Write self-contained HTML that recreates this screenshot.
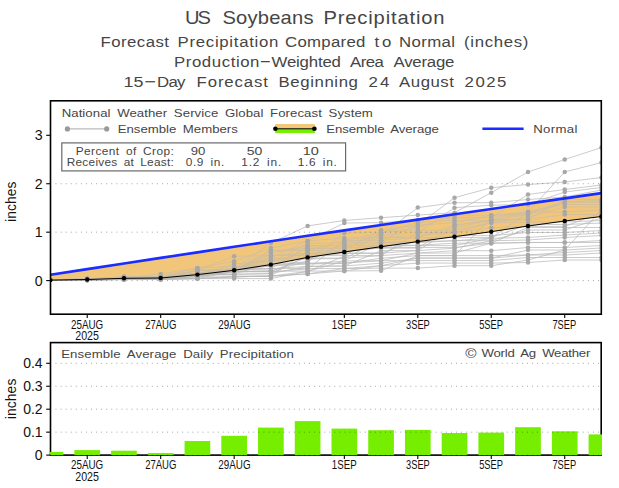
<!DOCTYPE html>
<html><head><meta charset="utf-8"><style>html,body{margin:0;padding:0;background:#fff;width:619px;height:488px;overflow:hidden}</style></head>
<body><svg width="619" height="488" viewBox="0 0 619 488" style="display:block;font-family:'Liberation Sans', sans-serif"><defs><clipPath id="ct"><rect x="50.5" y="100.5" width="550.7" height="213.7"/></clipPath><clipPath id="cb"><rect x="49.7" y="342" width="552.3" height="114"/></clipPath></defs><rect width="619" height="488" fill="#fff"/><g clip-path="url(#ct)"><polygon fill="#f2c77a" points="50.5,274.7 87.23,269.09 123.96,263.49 160.69,257.91 197.42,252.35 234.15,246.81 270.88,241.3 307.61,235.82 344.34,230.38 381.07,224.98 417.8,219.61 454.53,214.27 491.26,208.95 527.99,203.65 564.72,198.37 601.45,193.1 601.45,216.5 564.72,221 527.99,226 491.26,231.7 454.53,236.7 417.8,241.6 381.07,246.7 344.34,252 307.61,257.4 270.88,264.6 234.15,270.3 197.42,274.6 160.69,278 123.96,278.3 87.23,279.5 50.5,280.1"/><polyline fill="none" stroke="#b9b9b9" stroke-width="0.75" points="50.5,279.96 87.23,279.49 123.96,277.18 160.69,277.16 197.42,276.1 234.15,270.23 270.88,268.6 307.61,268.6 344.34,268.5 381.07,268.2 417.8,268.1 454.53,265.7 491.26,265.7 527.99,260 564.72,250 601.45,248"/><polyline fill="none" stroke="#b9b9b9" stroke-width="0.75" points="50.5,279.84 87.23,279.18 123.96,278.88 160.69,278.82 197.42,278.6 234.15,278.6 270.88,278.6 307.61,271.4 344.34,256 381.07,232.7 417.8,230.1 454.53,230.1 491.26,222.7 527.99,217 564.72,207 601.45,207"/><polyline fill="none" stroke="#b9b9b9" stroke-width="0.75" points="50.5,280.26 87.23,279 123.96,278.17 160.69,278.1 197.42,275.41 234.15,270.62 270.88,253.1 307.61,245.9 344.34,245.5 381.07,245.2 417.8,245.2 454.53,243.2 491.26,243.2 527.99,242.5 564.72,242.5 601.45,240.5"/><polyline fill="none" stroke="#b9b9b9" stroke-width="0.75" points="50.5,279.86 87.23,279.54 123.96,277.96 160.69,277.86 197.42,273.1 234.15,268.8 270.88,243.1 307.61,225.9 344.34,220.5 381.07,217.7 417.8,215.1 454.53,212.7 491.26,192.7 527.99,172 564.72,159.5 601.45,147.5"/><polyline fill="none" stroke="#b9b9b9" stroke-width="0.75" points="50.5,280.04 87.23,278.94 123.96,277.01 160.69,277 197.42,275.93 234.15,271.8 270.88,271.8 307.61,268.9 344.34,240.5 381.07,240.2 417.8,237.6 454.53,237.57 491.26,237.57 527.99,224.5 564.72,224.5 601.45,223"/><polyline fill="none" stroke="#b9b9b9" stroke-width="0.75" points="50.5,280.08 87.23,279.73 123.96,279.11 160.69,279.1 197.42,273.61 234.15,268.8 270.88,258.1 307.61,240.9 344.34,238 381.07,237.7 417.8,237.6 454.53,225.2 491.26,220.2 527.99,214.5 564.72,202 601.45,200"/><polyline fill="none" stroke="#b9b9b9" stroke-width="0.75" points="50.5,280.38 87.23,279.82 123.96,278.8 160.69,278.63 197.42,276.1 234.15,271.8 270.88,271.1 307.61,271.1 344.34,271 381.07,270.7 417.8,255.6 454.53,255.6 491.26,217.7 527.99,194.5 564.72,189.5 601.45,185"/><polyline fill="none" stroke="#b9b9b9" stroke-width="0.75" points="50.5,279.8 87.23,279.34 123.96,278.46 160.69,278.43 197.42,278.43 234.15,276.8 270.88,276.1 307.61,273.9 344.34,271 381.07,265.7 417.8,258.1 454.53,258.1 491.26,258.1 527.99,255 564.72,255 601.45,253"/><polyline fill="none" stroke="#b9b9b9" stroke-width="0.75" points="50.5,279.82 87.23,278.87 123.96,276.8 160.69,276.5 197.42,270.6 234.15,268.8 270.88,258.1 307.61,258.1 344.34,258.1 381.07,255.7 417.8,232.6 454.53,207.7 491.26,205.2 527.99,204.5 564.72,192 601.45,187.5"/><polyline fill="none" stroke="#b9b9b9" stroke-width="0.75" points="50.5,280.24 87.23,279.44 123.96,276.8 160.69,276.5 197.42,273.1 234.15,268.98 270.88,264.09 307.61,263.9 344.34,263.5 381.07,258.2 417.8,255.6 454.53,255.6 491.26,255.6 527.99,255 564.72,252.5 601.45,250.5"/><polyline fill="none" stroke="#b9b9b9" stroke-width="0.75" points="50.5,280.28 87.23,279.77 123.96,279.53 160.69,279.5 197.42,276.1 234.15,263.8 270.88,260.6 307.61,258.9 344.34,258.5 381.07,240.2 417.8,225.1 454.53,197.7 491.26,187.7 527.99,184.5 564.72,182 601.45,177.5"/><polyline fill="none" stroke="#b9b9b9" stroke-width="0.75" points="50.5,280.36 87.23,279.23 123.96,277.48 160.69,277.46 197.42,273.94 234.15,273.94 270.88,263.1 307.61,243.4 344.34,243 381.07,242.7 417.8,242.7 454.53,240.7 491.26,240.7 527.99,230 564.72,230 601.45,218"/><polyline fill="none" stroke="#b9b9b9" stroke-width="0.75" points="50.5,280.34 87.23,279.99 123.96,279.6 160.69,279.5 197.42,278.6 234.15,276.8 270.88,276.1 307.61,271.4 344.34,261 381.07,242.7 417.8,241.69 454.53,240.7 491.26,238.2 527.99,237.5 564.72,235 601.45,233"/><polyline fill="none" stroke="#b9b9b9" stroke-width="0.75" points="50.5,280.18 87.23,280.16 123.96,279.03 160.69,279.01 197.42,276.1 234.15,269.25 270.88,266.1 307.61,261.4 344.34,233 381.07,232.7 417.8,227.6 454.53,215.2 491.26,215.2 527.99,214.5 564.72,202 601.45,202"/><polyline fill="none" stroke="#b9b9b9" stroke-width="0.75" points="50.5,280.32 87.23,278.8 123.96,278.27 160.69,278.21 197.42,274.85 234.15,268.8 270.88,268.6 307.61,245.9 344.34,245.5 381.07,235.2 417.8,232.6 454.53,232.6 491.26,227.7 527.99,226.42 564.72,226.42 601.45,212.5"/><polyline fill="none" stroke="#b9b9b9" stroke-width="0.75" points="50.5,280.4 87.23,280.2 123.96,278.36 160.69,276.82 197.42,276.1 234.15,271.8 270.88,271.1 307.61,257.29 344.34,253.5 381.07,253.2 417.8,250.6 454.53,227.7 491.26,220.2 527.99,219.5 564.72,214.5 601.45,214.5"/><polyline fill="none" stroke="#b9b9b9" stroke-width="0.75" points="50.5,280.1 87.23,279.06 123.96,277.61 160.69,277.6 197.42,277.6 234.15,269.54 270.88,250.6 307.61,248.4 344.34,248 381.07,237.7 417.8,235.1 454.53,232.7 491.26,222.7 527.99,222 564.72,222 601.45,220.5"/><polyline fill="none" stroke="#b9b9b9" stroke-width="0.75" points="50.5,279.94 87.23,279.86 123.96,279.18 160.69,278.73 197.42,275.14 234.15,274.3 270.88,273.6 307.61,255.9 344.34,250.5 381.07,248.2 417.8,248.1 454.53,225.2 491.26,220.2 527.99,219.5 564.72,199.5 601.45,199.5"/><polyline fill="none" stroke="#b9b9b9" stroke-width="0.75" points="50.5,279.88 87.23,279.68 123.96,278.96 160.69,278.92 197.42,276.1 234.15,276.1 270.88,276.1 307.61,273.9 344.34,268.5 381.07,265.7 417.8,263.1 454.53,263.1 491.26,263.1 527.99,262.5 564.72,260 601.45,260"/><polyline fill="none" stroke="#b9b9b9" stroke-width="0.75" points="50.5,280.12 87.23,280.12 123.96,279.47 160.69,279.44 197.42,275.67 234.15,269.87 270.88,268.6 307.61,266.4 344.34,266 381.07,250.7 417.8,250.6 454.53,248.2 491.26,240.7 527.99,240 564.72,237.5 601.45,235.5"/><polyline fill="none" stroke="#b9b9b9" stroke-width="0.75" points="50.5,280 87.23,279.95 123.96,278.72 160.69,278.53 197.42,270.6 234.15,270.6 270.88,250.6 307.61,250.6 344.34,250.6 381.07,230.2 417.8,225.1 454.53,222.7 491.26,215.2 527.99,212 564.72,204.5 601.45,204.5"/><polyline fill="none" stroke="#b9b9b9" stroke-width="0.75" points="50.5,280.16 87.23,279.63 123.96,278.63 160.69,277.32 197.42,274.56 234.15,274.3 270.88,273.6 307.61,266.4 344.34,266 381.07,263.2 417.8,258.1 454.53,258.1 491.26,258.1 527.99,250 564.72,250 601.45,210"/><polyline fill="none" stroke="#b9b9b9" stroke-width="0.75" points="50.5,280.3 87.23,280.08 123.96,278.54 160.69,278.32 197.42,274.26 234.15,268.8 270.88,263.1 307.61,263.1 344.34,263.1 381.07,260.7 417.8,260.6 454.53,260.6 491.26,260.6 527.99,257.5 564.72,257.5 601.45,257.5"/><polyline fill="none" stroke="#b9b9b9" stroke-width="0.75" points="50.5,280.2 87.23,279.12 123.96,276.81 160.69,276.62 197.42,268.1 234.15,261.3 270.88,248.1 307.61,240.9 344.34,223 381.07,222.7 417.8,220.1 454.53,217.7 491.26,217.7 527.99,212 564.72,212 601.45,210"/><polyline fill="none" stroke="#b9b9b9" stroke-width="0.75" points="50.5,280.22 87.23,279.39 123.96,277.85 160.69,277.73 197.42,273.26 234.15,268.8 270.88,266.01 307.61,263.9 344.34,261 381.07,260.7 417.8,253.1 454.53,250.7 491.26,250.7 527.99,247.5 564.72,247.5 601.45,245.5"/><polyline fill="none" stroke="#b9b9b9" stroke-width="0.75" points="50.5,279.9 87.23,278.6 123.96,278.07 160.69,277.98 197.42,270.6 234.15,268.8 270.88,255.6 307.61,253.4 344.34,253.09 381.07,253.09 417.8,240.17 454.53,235.67 491.26,235.67 527.99,232.5 564.72,232.5 601.45,230.5"/><polyline fill="none" stroke="#b9b9b9" stroke-width="0.75" points="50.5,280.14 87.23,279.59 123.96,279.4 160.69,279.36 197.42,273.1 234.15,268.8 270.88,260.6 307.61,253.4 344.34,251.88 381.07,247.56 417.8,247.56 454.53,247.56 491.26,243.2 527.99,242.5 564.72,242.5 601.45,242.5"/><polyline fill="none" stroke="#b9b9b9" stroke-width="0.75" points="50.5,279.98 87.23,278.72 123.96,277.74 160.69,274 197.42,268.1 234.15,266.3 270.88,265.06 307.61,248.4 344.34,248 381.07,246.1 417.8,245.6 454.53,245.6 491.26,238.2 527.99,212 564.72,202 601.45,202"/><polyline fill="none" stroke="#b9b9b9" stroke-width="0.75" points="50.5,280.02 87.23,279.29 123.96,277.34 160.69,276.5 197.42,270.6 234.15,256.3 270.88,255.6 307.61,255.6 344.34,255.6 381.07,255.6 417.8,253.1 454.53,253.1 491.26,243.2 527.99,227.5 564.72,227.5 601.45,227.5"/><polyline fill="none" stroke="#b9b9b9" stroke-width="0.75" points="50.5,279.92 87.23,279.9 123.96,279.33 160.69,279.27 197.42,278.6 234.15,276.8 270.88,276.1 307.61,250.9 344.34,240.5 381.07,232.7 417.8,222.6 454.53,220.2 491.26,220.2 527.99,212 564.72,172 601.45,162.5"/><polyline fill="none" stroke="#b9b9b9" stroke-width="0.75" points="50.5,280.06 87.23,280.03 123.96,279.26 160.69,279.18 197.42,278.6 234.15,271.04 270.88,271.04 307.61,261.4 344.34,243 381.07,235.2 417.8,207.6 454.53,202.7 491.26,202.7 527.99,199.5 564.72,197 601.45,190"/><polygon fill="#f2c77a" fill-opacity="0.35" points="50.5,274.7 87.23,269.09 123.96,263.49 160.69,257.91 197.42,252.35 234.15,246.81 270.88,241.3 307.61,235.82 344.34,230.38 381.07,224.98 417.8,219.61 454.53,214.27 491.26,208.95 527.99,203.65 564.72,198.37 601.45,193.1 601.45,216.5 564.72,221 527.99,226 491.26,231.7 454.53,236.7 417.8,241.6 381.07,246.7 344.34,252 307.61,257.4 270.88,264.6 234.15,270.3 197.42,274.6 160.69,278 123.96,278.3 87.23,279.5 50.5,280.1"/><line x1="55.5" y1="280.6" x2="601" y2="280.6" stroke="#000" stroke-opacity="0.36" stroke-width="1" stroke-dasharray="1 4.07"/><line x1="55.5" y1="232.17" x2="601" y2="232.17" stroke="#000" stroke-opacity="0.36" stroke-width="1" stroke-dasharray="1 4.07"/><line x1="55.5" y1="183.74" x2="601" y2="183.74" stroke="#000" stroke-opacity="0.36" stroke-width="1" stroke-dasharray="1 4.07"/><circle cx="87.23" cy="279.49" r="2.25" fill="#a8a8a8"/><circle cx="87.23" cy="279.18" r="2.25" fill="#a8a8a8"/><circle cx="87.23" cy="279" r="2.25" fill="#a8a8a8"/><circle cx="87.23" cy="279.54" r="2.25" fill="#a8a8a8"/><circle cx="87.23" cy="278.94" r="2.25" fill="#a8a8a8"/><circle cx="87.23" cy="279.73" r="2.25" fill="#a8a8a8"/><circle cx="87.23" cy="279.82" r="2.25" fill="#a8a8a8"/><circle cx="87.23" cy="279.34" r="2.25" fill="#a8a8a8"/><circle cx="87.23" cy="278.87" r="2.25" fill="#a8a8a8"/><circle cx="87.23" cy="279.44" r="2.25" fill="#a8a8a8"/><circle cx="87.23" cy="279.77" r="2.25" fill="#a8a8a8"/><circle cx="87.23" cy="279.23" r="2.25" fill="#a8a8a8"/><circle cx="87.23" cy="279.99" r="2.25" fill="#a8a8a8"/><circle cx="87.23" cy="280.16" r="2.25" fill="#a8a8a8"/><circle cx="87.23" cy="278.8" r="2.25" fill="#a8a8a8"/><circle cx="87.23" cy="280.2" r="2.25" fill="#a8a8a8"/><circle cx="87.23" cy="279.06" r="2.25" fill="#a8a8a8"/><circle cx="87.23" cy="279.86" r="2.25" fill="#a8a8a8"/><circle cx="87.23" cy="279.68" r="2.25" fill="#a8a8a8"/><circle cx="87.23" cy="280.12" r="2.25" fill="#a8a8a8"/><circle cx="87.23" cy="279.95" r="2.25" fill="#a8a8a8"/><circle cx="87.23" cy="279.63" r="2.25" fill="#a8a8a8"/><circle cx="87.23" cy="280.08" r="2.25" fill="#a8a8a8"/><circle cx="87.23" cy="279.12" r="2.25" fill="#a8a8a8"/><circle cx="87.23" cy="279.39" r="2.25" fill="#a8a8a8"/><circle cx="87.23" cy="278.6" r="2.25" fill="#a8a8a8"/><circle cx="87.23" cy="279.59" r="2.25" fill="#a8a8a8"/><circle cx="87.23" cy="278.72" r="2.25" fill="#a8a8a8"/><circle cx="87.23" cy="279.29" r="2.25" fill="#a8a8a8"/><circle cx="87.23" cy="279.9" r="2.25" fill="#a8a8a8"/><circle cx="87.23" cy="280.03" r="2.25" fill="#a8a8a8"/><circle cx="123.96" cy="277.18" r="2.25" fill="#a8a8a8"/><circle cx="123.96" cy="278.88" r="2.25" fill="#a8a8a8"/><circle cx="123.96" cy="278.17" r="2.25" fill="#a8a8a8"/><circle cx="123.96" cy="277.96" r="2.25" fill="#a8a8a8"/><circle cx="123.96" cy="277.01" r="2.25" fill="#a8a8a8"/><circle cx="123.96" cy="279.11" r="2.25" fill="#a8a8a8"/><circle cx="123.96" cy="278.8" r="2.25" fill="#a8a8a8"/><circle cx="123.96" cy="278.46" r="2.25" fill="#a8a8a8"/><circle cx="123.96" cy="276.8" r="2.25" fill="#a8a8a8"/><circle cx="123.96" cy="276.8" r="2.25" fill="#a8a8a8"/><circle cx="123.96" cy="279.53" r="2.25" fill="#a8a8a8"/><circle cx="123.96" cy="277.48" r="2.25" fill="#a8a8a8"/><circle cx="123.96" cy="279.6" r="2.25" fill="#a8a8a8"/><circle cx="123.96" cy="279.03" r="2.25" fill="#a8a8a8"/><circle cx="123.96" cy="278.27" r="2.25" fill="#a8a8a8"/><circle cx="123.96" cy="278.36" r="2.25" fill="#a8a8a8"/><circle cx="123.96" cy="277.61" r="2.25" fill="#a8a8a8"/><circle cx="123.96" cy="279.18" r="2.25" fill="#a8a8a8"/><circle cx="123.96" cy="278.96" r="2.25" fill="#a8a8a8"/><circle cx="123.96" cy="279.47" r="2.25" fill="#a8a8a8"/><circle cx="123.96" cy="278.72" r="2.25" fill="#a8a8a8"/><circle cx="123.96" cy="278.63" r="2.25" fill="#a8a8a8"/><circle cx="123.96" cy="278.54" r="2.25" fill="#a8a8a8"/><circle cx="123.96" cy="276.81" r="2.25" fill="#a8a8a8"/><circle cx="123.96" cy="277.85" r="2.25" fill="#a8a8a8"/><circle cx="123.96" cy="278.07" r="2.25" fill="#a8a8a8"/><circle cx="123.96" cy="279.4" r="2.25" fill="#a8a8a8"/><circle cx="123.96" cy="277.74" r="2.25" fill="#a8a8a8"/><circle cx="123.96" cy="277.34" r="2.25" fill="#a8a8a8"/><circle cx="123.96" cy="279.33" r="2.25" fill="#a8a8a8"/><circle cx="123.96" cy="279.26" r="2.25" fill="#a8a8a8"/><circle cx="160.69" cy="277.16" r="2.25" fill="#a8a8a8"/><circle cx="160.69" cy="278.82" r="2.25" fill="#a8a8a8"/><circle cx="160.69" cy="278.1" r="2.25" fill="#a8a8a8"/><circle cx="160.69" cy="277.86" r="2.25" fill="#a8a8a8"/><circle cx="160.69" cy="277" r="2.25" fill="#a8a8a8"/><circle cx="160.69" cy="279.1" r="2.25" fill="#a8a8a8"/><circle cx="160.69" cy="278.63" r="2.25" fill="#a8a8a8"/><circle cx="160.69" cy="278.43" r="2.25" fill="#a8a8a8"/><circle cx="160.69" cy="276.5" r="2.25" fill="#a8a8a8"/><circle cx="160.69" cy="276.5" r="2.25" fill="#a8a8a8"/><circle cx="160.69" cy="279.5" r="2.25" fill="#a8a8a8"/><circle cx="160.69" cy="277.46" r="2.25" fill="#a8a8a8"/><circle cx="160.69" cy="279.5" r="2.25" fill="#a8a8a8"/><circle cx="160.69" cy="279.01" r="2.25" fill="#a8a8a8"/><circle cx="160.69" cy="278.21" r="2.25" fill="#a8a8a8"/><circle cx="160.69" cy="276.82" r="2.25" fill="#a8a8a8"/><circle cx="160.69" cy="277.6" r="2.25" fill="#a8a8a8"/><circle cx="160.69" cy="278.73" r="2.25" fill="#a8a8a8"/><circle cx="160.69" cy="278.92" r="2.25" fill="#a8a8a8"/><circle cx="160.69" cy="279.44" r="2.25" fill="#a8a8a8"/><circle cx="160.69" cy="278.53" r="2.25" fill="#a8a8a8"/><circle cx="160.69" cy="277.32" r="2.25" fill="#a8a8a8"/><circle cx="160.69" cy="278.32" r="2.25" fill="#a8a8a8"/><circle cx="160.69" cy="276.62" r="2.25" fill="#a8a8a8"/><circle cx="160.69" cy="277.73" r="2.25" fill="#a8a8a8"/><circle cx="160.69" cy="277.98" r="2.25" fill="#a8a8a8"/><circle cx="160.69" cy="279.36" r="2.25" fill="#a8a8a8"/><circle cx="160.69" cy="274" r="2.25" fill="#a8a8a8"/><circle cx="160.69" cy="276.5" r="2.25" fill="#a8a8a8"/><circle cx="160.69" cy="279.27" r="2.25" fill="#a8a8a8"/><circle cx="160.69" cy="279.18" r="2.25" fill="#a8a8a8"/><circle cx="197.42" cy="276.1" r="2.25" fill="#a8a8a8"/><circle cx="197.42" cy="278.6" r="2.25" fill="#a8a8a8"/><circle cx="197.42" cy="275.41" r="2.25" fill="#a8a8a8"/><circle cx="197.42" cy="273.1" r="2.25" fill="#a8a8a8"/><circle cx="197.42" cy="275.93" r="2.25" fill="#a8a8a8"/><circle cx="197.42" cy="273.61" r="2.25" fill="#a8a8a8"/><circle cx="197.42" cy="276.1" r="2.25" fill="#a8a8a8"/><circle cx="197.42" cy="278.43" r="2.25" fill="#a8a8a8"/><circle cx="197.42" cy="270.6" r="2.25" fill="#a8a8a8"/><circle cx="197.42" cy="273.1" r="2.25" fill="#a8a8a8"/><circle cx="197.42" cy="276.1" r="2.25" fill="#a8a8a8"/><circle cx="197.42" cy="273.94" r="2.25" fill="#a8a8a8"/><circle cx="197.42" cy="278.6" r="2.25" fill="#a8a8a8"/><circle cx="197.42" cy="276.1" r="2.25" fill="#a8a8a8"/><circle cx="197.42" cy="274.85" r="2.25" fill="#a8a8a8"/><circle cx="197.42" cy="276.1" r="2.25" fill="#a8a8a8"/><circle cx="197.42" cy="277.6" r="2.25" fill="#a8a8a8"/><circle cx="197.42" cy="275.14" r="2.25" fill="#a8a8a8"/><circle cx="197.42" cy="276.1" r="2.25" fill="#a8a8a8"/><circle cx="197.42" cy="275.67" r="2.25" fill="#a8a8a8"/><circle cx="197.42" cy="270.6" r="2.25" fill="#a8a8a8"/><circle cx="197.42" cy="274.56" r="2.25" fill="#a8a8a8"/><circle cx="197.42" cy="274.26" r="2.25" fill="#a8a8a8"/><circle cx="197.42" cy="268.1" r="2.25" fill="#a8a8a8"/><circle cx="197.42" cy="273.26" r="2.25" fill="#a8a8a8"/><circle cx="197.42" cy="270.6" r="2.25" fill="#a8a8a8"/><circle cx="197.42" cy="273.1" r="2.25" fill="#a8a8a8"/><circle cx="197.42" cy="268.1" r="2.25" fill="#a8a8a8"/><circle cx="197.42" cy="270.6" r="2.25" fill="#a8a8a8"/><circle cx="197.42" cy="278.6" r="2.25" fill="#a8a8a8"/><circle cx="197.42" cy="278.6" r="2.25" fill="#a8a8a8"/><circle cx="234.15" cy="270.23" r="2.25" fill="#a8a8a8"/><circle cx="234.15" cy="278.6" r="2.25" fill="#a8a8a8"/><circle cx="234.15" cy="270.62" r="2.25" fill="#a8a8a8"/><circle cx="234.15" cy="268.8" r="2.25" fill="#a8a8a8"/><circle cx="234.15" cy="271.8" r="2.25" fill="#a8a8a8"/><circle cx="234.15" cy="268.8" r="2.25" fill="#a8a8a8"/><circle cx="234.15" cy="271.8" r="2.25" fill="#a8a8a8"/><circle cx="234.15" cy="276.8" r="2.25" fill="#a8a8a8"/><circle cx="234.15" cy="268.8" r="2.25" fill="#a8a8a8"/><circle cx="234.15" cy="268.98" r="2.25" fill="#a8a8a8"/><circle cx="234.15" cy="263.8" r="2.25" fill="#a8a8a8"/><circle cx="234.15" cy="273.94" r="2.25" fill="#a8a8a8"/><circle cx="234.15" cy="276.8" r="2.25" fill="#a8a8a8"/><circle cx="234.15" cy="269.25" r="2.25" fill="#a8a8a8"/><circle cx="234.15" cy="268.8" r="2.25" fill="#a8a8a8"/><circle cx="234.15" cy="271.8" r="2.25" fill="#a8a8a8"/><circle cx="234.15" cy="269.54" r="2.25" fill="#a8a8a8"/><circle cx="234.15" cy="274.3" r="2.25" fill="#a8a8a8"/><circle cx="234.15" cy="276.1" r="2.25" fill="#a8a8a8"/><circle cx="234.15" cy="269.87" r="2.25" fill="#a8a8a8"/><circle cx="234.15" cy="270.6" r="2.25" fill="#a8a8a8"/><circle cx="234.15" cy="274.3" r="2.25" fill="#a8a8a8"/><circle cx="234.15" cy="268.8" r="2.25" fill="#a8a8a8"/><circle cx="234.15" cy="261.3" r="2.25" fill="#a8a8a8"/><circle cx="234.15" cy="268.8" r="2.25" fill="#a8a8a8"/><circle cx="234.15" cy="268.8" r="2.25" fill="#a8a8a8"/><circle cx="234.15" cy="268.8" r="2.25" fill="#a8a8a8"/><circle cx="234.15" cy="266.3" r="2.25" fill="#a8a8a8"/><circle cx="234.15" cy="256.3" r="2.25" fill="#a8a8a8"/><circle cx="234.15" cy="276.8" r="2.25" fill="#a8a8a8"/><circle cx="234.15" cy="271.04" r="2.25" fill="#a8a8a8"/><circle cx="270.88" cy="268.6" r="2.25" fill="#a8a8a8"/><circle cx="270.88" cy="278.6" r="2.25" fill="#a8a8a8"/><circle cx="270.88" cy="253.1" r="2.25" fill="#a8a8a8"/><circle cx="270.88" cy="243.1" r="2.25" fill="#a8a8a8"/><circle cx="270.88" cy="271.8" r="2.25" fill="#a8a8a8"/><circle cx="270.88" cy="258.1" r="2.25" fill="#a8a8a8"/><circle cx="270.88" cy="271.1" r="2.25" fill="#a8a8a8"/><circle cx="270.88" cy="276.1" r="2.25" fill="#a8a8a8"/><circle cx="270.88" cy="258.1" r="2.25" fill="#a8a8a8"/><circle cx="270.88" cy="264.09" r="2.25" fill="#a8a8a8"/><circle cx="270.88" cy="260.6" r="2.25" fill="#a8a8a8"/><circle cx="270.88" cy="263.1" r="2.25" fill="#a8a8a8"/><circle cx="270.88" cy="276.1" r="2.25" fill="#a8a8a8"/><circle cx="270.88" cy="266.1" r="2.25" fill="#a8a8a8"/><circle cx="270.88" cy="268.6" r="2.25" fill="#a8a8a8"/><circle cx="270.88" cy="271.1" r="2.25" fill="#a8a8a8"/><circle cx="270.88" cy="250.6" r="2.25" fill="#a8a8a8"/><circle cx="270.88" cy="273.6" r="2.25" fill="#a8a8a8"/><circle cx="270.88" cy="276.1" r="2.25" fill="#a8a8a8"/><circle cx="270.88" cy="268.6" r="2.25" fill="#a8a8a8"/><circle cx="270.88" cy="250.6" r="2.25" fill="#a8a8a8"/><circle cx="270.88" cy="273.6" r="2.25" fill="#a8a8a8"/><circle cx="270.88" cy="263.1" r="2.25" fill="#a8a8a8"/><circle cx="270.88" cy="248.1" r="2.25" fill="#a8a8a8"/><circle cx="270.88" cy="266.01" r="2.25" fill="#a8a8a8"/><circle cx="270.88" cy="255.6" r="2.25" fill="#a8a8a8"/><circle cx="270.88" cy="260.6" r="2.25" fill="#a8a8a8"/><circle cx="270.88" cy="265.06" r="2.25" fill="#a8a8a8"/><circle cx="270.88" cy="255.6" r="2.25" fill="#a8a8a8"/><circle cx="270.88" cy="276.1" r="2.25" fill="#a8a8a8"/><circle cx="270.88" cy="271.04" r="2.25" fill="#a8a8a8"/><circle cx="307.61" cy="268.6" r="2.25" fill="#a8a8a8"/><circle cx="307.61" cy="271.4" r="2.25" fill="#a8a8a8"/><circle cx="307.61" cy="245.9" r="2.25" fill="#a8a8a8"/><circle cx="307.61" cy="225.9" r="2.25" fill="#a8a8a8"/><circle cx="307.61" cy="268.9" r="2.25" fill="#a8a8a8"/><circle cx="307.61" cy="240.9" r="2.25" fill="#a8a8a8"/><circle cx="307.61" cy="271.1" r="2.25" fill="#a8a8a8"/><circle cx="307.61" cy="273.9" r="2.25" fill="#a8a8a8"/><circle cx="307.61" cy="258.1" r="2.25" fill="#a8a8a8"/><circle cx="307.61" cy="263.9" r="2.25" fill="#a8a8a8"/><circle cx="307.61" cy="258.9" r="2.25" fill="#a8a8a8"/><circle cx="307.61" cy="243.4" r="2.25" fill="#a8a8a8"/><circle cx="307.61" cy="271.4" r="2.25" fill="#a8a8a8"/><circle cx="307.61" cy="261.4" r="2.25" fill="#a8a8a8"/><circle cx="307.61" cy="245.9" r="2.25" fill="#a8a8a8"/><circle cx="307.61" cy="257.29" r="2.25" fill="#a8a8a8"/><circle cx="307.61" cy="248.4" r="2.25" fill="#a8a8a8"/><circle cx="307.61" cy="255.9" r="2.25" fill="#a8a8a8"/><circle cx="307.61" cy="273.9" r="2.25" fill="#a8a8a8"/><circle cx="307.61" cy="266.4" r="2.25" fill="#a8a8a8"/><circle cx="307.61" cy="250.6" r="2.25" fill="#a8a8a8"/><circle cx="307.61" cy="266.4" r="2.25" fill="#a8a8a8"/><circle cx="307.61" cy="263.1" r="2.25" fill="#a8a8a8"/><circle cx="307.61" cy="240.9" r="2.25" fill="#a8a8a8"/><circle cx="307.61" cy="263.9" r="2.25" fill="#a8a8a8"/><circle cx="307.61" cy="253.4" r="2.25" fill="#a8a8a8"/><circle cx="307.61" cy="253.4" r="2.25" fill="#a8a8a8"/><circle cx="307.61" cy="248.4" r="2.25" fill="#a8a8a8"/><circle cx="307.61" cy="255.6" r="2.25" fill="#a8a8a8"/><circle cx="307.61" cy="250.9" r="2.25" fill="#a8a8a8"/><circle cx="307.61" cy="261.4" r="2.25" fill="#a8a8a8"/><circle cx="344.34" cy="268.5" r="2.25" fill="#a8a8a8"/><circle cx="344.34" cy="256" r="2.25" fill="#a8a8a8"/><circle cx="344.34" cy="245.5" r="2.25" fill="#a8a8a8"/><circle cx="344.34" cy="220.5" r="2.25" fill="#a8a8a8"/><circle cx="344.34" cy="240.5" r="2.25" fill="#a8a8a8"/><circle cx="344.34" cy="238" r="2.25" fill="#a8a8a8"/><circle cx="344.34" cy="271" r="2.25" fill="#a8a8a8"/><circle cx="344.34" cy="271" r="2.25" fill="#a8a8a8"/><circle cx="344.34" cy="258.1" r="2.25" fill="#a8a8a8"/><circle cx="344.34" cy="263.5" r="2.25" fill="#a8a8a8"/><circle cx="344.34" cy="258.5" r="2.25" fill="#a8a8a8"/><circle cx="344.34" cy="243" r="2.25" fill="#a8a8a8"/><circle cx="344.34" cy="261" r="2.25" fill="#a8a8a8"/><circle cx="344.34" cy="233" r="2.25" fill="#a8a8a8"/><circle cx="344.34" cy="245.5" r="2.25" fill="#a8a8a8"/><circle cx="344.34" cy="253.5" r="2.25" fill="#a8a8a8"/><circle cx="344.34" cy="248" r="2.25" fill="#a8a8a8"/><circle cx="344.34" cy="250.5" r="2.25" fill="#a8a8a8"/><circle cx="344.34" cy="268.5" r="2.25" fill="#a8a8a8"/><circle cx="344.34" cy="266" r="2.25" fill="#a8a8a8"/><circle cx="344.34" cy="250.6" r="2.25" fill="#a8a8a8"/><circle cx="344.34" cy="266" r="2.25" fill="#a8a8a8"/><circle cx="344.34" cy="263.1" r="2.25" fill="#a8a8a8"/><circle cx="344.34" cy="223" r="2.25" fill="#a8a8a8"/><circle cx="344.34" cy="261" r="2.25" fill="#a8a8a8"/><circle cx="344.34" cy="253.09" r="2.25" fill="#a8a8a8"/><circle cx="344.34" cy="251.88" r="2.25" fill="#a8a8a8"/><circle cx="344.34" cy="248" r="2.25" fill="#a8a8a8"/><circle cx="344.34" cy="255.6" r="2.25" fill="#a8a8a8"/><circle cx="344.34" cy="240.5" r="2.25" fill="#a8a8a8"/><circle cx="344.34" cy="243" r="2.25" fill="#a8a8a8"/><circle cx="381.07" cy="268.2" r="2.25" fill="#a8a8a8"/><circle cx="381.07" cy="232.7" r="2.25" fill="#a8a8a8"/><circle cx="381.07" cy="245.2" r="2.25" fill="#a8a8a8"/><circle cx="381.07" cy="217.7" r="2.25" fill="#a8a8a8"/><circle cx="381.07" cy="240.2" r="2.25" fill="#a8a8a8"/><circle cx="381.07" cy="237.7" r="2.25" fill="#a8a8a8"/><circle cx="381.07" cy="270.7" r="2.25" fill="#a8a8a8"/><circle cx="381.07" cy="265.7" r="2.25" fill="#a8a8a8"/><circle cx="381.07" cy="255.7" r="2.25" fill="#a8a8a8"/><circle cx="381.07" cy="258.2" r="2.25" fill="#a8a8a8"/><circle cx="381.07" cy="240.2" r="2.25" fill="#a8a8a8"/><circle cx="381.07" cy="242.7" r="2.25" fill="#a8a8a8"/><circle cx="381.07" cy="242.7" r="2.25" fill="#a8a8a8"/><circle cx="381.07" cy="232.7" r="2.25" fill="#a8a8a8"/><circle cx="381.07" cy="235.2" r="2.25" fill="#a8a8a8"/><circle cx="381.07" cy="253.2" r="2.25" fill="#a8a8a8"/><circle cx="381.07" cy="237.7" r="2.25" fill="#a8a8a8"/><circle cx="381.07" cy="248.2" r="2.25" fill="#a8a8a8"/><circle cx="381.07" cy="265.7" r="2.25" fill="#a8a8a8"/><circle cx="381.07" cy="250.7" r="2.25" fill="#a8a8a8"/><circle cx="381.07" cy="230.2" r="2.25" fill="#a8a8a8"/><circle cx="381.07" cy="263.2" r="2.25" fill="#a8a8a8"/><circle cx="381.07" cy="260.7" r="2.25" fill="#a8a8a8"/><circle cx="381.07" cy="222.7" r="2.25" fill="#a8a8a8"/><circle cx="381.07" cy="260.7" r="2.25" fill="#a8a8a8"/><circle cx="381.07" cy="253.09" r="2.25" fill="#a8a8a8"/><circle cx="381.07" cy="247.56" r="2.25" fill="#a8a8a8"/><circle cx="381.07" cy="246.1" r="2.25" fill="#a8a8a8"/><circle cx="381.07" cy="255.6" r="2.25" fill="#a8a8a8"/><circle cx="381.07" cy="232.7" r="2.25" fill="#a8a8a8"/><circle cx="381.07" cy="235.2" r="2.25" fill="#a8a8a8"/><circle cx="417.8" cy="268.1" r="2.25" fill="#a8a8a8"/><circle cx="417.8" cy="230.1" r="2.25" fill="#a8a8a8"/><circle cx="417.8" cy="245.2" r="2.25" fill="#a8a8a8"/><circle cx="417.8" cy="215.1" r="2.25" fill="#a8a8a8"/><circle cx="417.8" cy="237.6" r="2.25" fill="#a8a8a8"/><circle cx="417.8" cy="237.6" r="2.25" fill="#a8a8a8"/><circle cx="417.8" cy="255.6" r="2.25" fill="#a8a8a8"/><circle cx="417.8" cy="258.1" r="2.25" fill="#a8a8a8"/><circle cx="417.8" cy="232.6" r="2.25" fill="#a8a8a8"/><circle cx="417.8" cy="255.6" r="2.25" fill="#a8a8a8"/><circle cx="417.8" cy="225.1" r="2.25" fill="#a8a8a8"/><circle cx="417.8" cy="242.7" r="2.25" fill="#a8a8a8"/><circle cx="417.8" cy="241.69" r="2.25" fill="#a8a8a8"/><circle cx="417.8" cy="227.6" r="2.25" fill="#a8a8a8"/><circle cx="417.8" cy="232.6" r="2.25" fill="#a8a8a8"/><circle cx="417.8" cy="250.6" r="2.25" fill="#a8a8a8"/><circle cx="417.8" cy="235.1" r="2.25" fill="#a8a8a8"/><circle cx="417.8" cy="248.1" r="2.25" fill="#a8a8a8"/><circle cx="417.8" cy="263.1" r="2.25" fill="#a8a8a8"/><circle cx="417.8" cy="250.6" r="2.25" fill="#a8a8a8"/><circle cx="417.8" cy="225.1" r="2.25" fill="#a8a8a8"/><circle cx="417.8" cy="258.1" r="2.25" fill="#a8a8a8"/><circle cx="417.8" cy="260.6" r="2.25" fill="#a8a8a8"/><circle cx="417.8" cy="220.1" r="2.25" fill="#a8a8a8"/><circle cx="417.8" cy="253.1" r="2.25" fill="#a8a8a8"/><circle cx="417.8" cy="240.17" r="2.25" fill="#a8a8a8"/><circle cx="417.8" cy="247.56" r="2.25" fill="#a8a8a8"/><circle cx="417.8" cy="245.6" r="2.25" fill="#a8a8a8"/><circle cx="417.8" cy="253.1" r="2.25" fill="#a8a8a8"/><circle cx="417.8" cy="222.6" r="2.25" fill="#a8a8a8"/><circle cx="417.8" cy="207.6" r="2.25" fill="#a8a8a8"/><circle cx="454.53" cy="265.7" r="2.25" fill="#a8a8a8"/><circle cx="454.53" cy="230.1" r="2.25" fill="#a8a8a8"/><circle cx="454.53" cy="243.2" r="2.25" fill="#a8a8a8"/><circle cx="454.53" cy="212.7" r="2.25" fill="#a8a8a8"/><circle cx="454.53" cy="237.57" r="2.25" fill="#a8a8a8"/><circle cx="454.53" cy="225.2" r="2.25" fill="#a8a8a8"/><circle cx="454.53" cy="255.6" r="2.25" fill="#a8a8a8"/><circle cx="454.53" cy="258.1" r="2.25" fill="#a8a8a8"/><circle cx="454.53" cy="207.7" r="2.25" fill="#a8a8a8"/><circle cx="454.53" cy="255.6" r="2.25" fill="#a8a8a8"/><circle cx="454.53" cy="197.7" r="2.25" fill="#a8a8a8"/><circle cx="454.53" cy="240.7" r="2.25" fill="#a8a8a8"/><circle cx="454.53" cy="240.7" r="2.25" fill="#a8a8a8"/><circle cx="454.53" cy="215.2" r="2.25" fill="#a8a8a8"/><circle cx="454.53" cy="232.6" r="2.25" fill="#a8a8a8"/><circle cx="454.53" cy="227.7" r="2.25" fill="#a8a8a8"/><circle cx="454.53" cy="232.7" r="2.25" fill="#a8a8a8"/><circle cx="454.53" cy="225.2" r="2.25" fill="#a8a8a8"/><circle cx="454.53" cy="263.1" r="2.25" fill="#a8a8a8"/><circle cx="454.53" cy="248.2" r="2.25" fill="#a8a8a8"/><circle cx="454.53" cy="222.7" r="2.25" fill="#a8a8a8"/><circle cx="454.53" cy="258.1" r="2.25" fill="#a8a8a8"/><circle cx="454.53" cy="260.6" r="2.25" fill="#a8a8a8"/><circle cx="454.53" cy="217.7" r="2.25" fill="#a8a8a8"/><circle cx="454.53" cy="250.7" r="2.25" fill="#a8a8a8"/><circle cx="454.53" cy="235.67" r="2.25" fill="#a8a8a8"/><circle cx="454.53" cy="247.56" r="2.25" fill="#a8a8a8"/><circle cx="454.53" cy="245.6" r="2.25" fill="#a8a8a8"/><circle cx="454.53" cy="253.1" r="2.25" fill="#a8a8a8"/><circle cx="454.53" cy="220.2" r="2.25" fill="#a8a8a8"/><circle cx="454.53" cy="202.7" r="2.25" fill="#a8a8a8"/><circle cx="491.26" cy="265.7" r="2.25" fill="#a8a8a8"/><circle cx="491.26" cy="222.7" r="2.25" fill="#a8a8a8"/><circle cx="491.26" cy="243.2" r="2.25" fill="#a8a8a8"/><circle cx="491.26" cy="192.7" r="2.25" fill="#a8a8a8"/><circle cx="491.26" cy="237.57" r="2.25" fill="#a8a8a8"/><circle cx="491.26" cy="220.2" r="2.25" fill="#a8a8a8"/><circle cx="491.26" cy="217.7" r="2.25" fill="#a8a8a8"/><circle cx="491.26" cy="258.1" r="2.25" fill="#a8a8a8"/><circle cx="491.26" cy="205.2" r="2.25" fill="#a8a8a8"/><circle cx="491.26" cy="255.6" r="2.25" fill="#a8a8a8"/><circle cx="491.26" cy="187.7" r="2.25" fill="#a8a8a8"/><circle cx="491.26" cy="240.7" r="2.25" fill="#a8a8a8"/><circle cx="491.26" cy="238.2" r="2.25" fill="#a8a8a8"/><circle cx="491.26" cy="215.2" r="2.25" fill="#a8a8a8"/><circle cx="491.26" cy="227.7" r="2.25" fill="#a8a8a8"/><circle cx="491.26" cy="220.2" r="2.25" fill="#a8a8a8"/><circle cx="491.26" cy="222.7" r="2.25" fill="#a8a8a8"/><circle cx="491.26" cy="220.2" r="2.25" fill="#a8a8a8"/><circle cx="491.26" cy="263.1" r="2.25" fill="#a8a8a8"/><circle cx="491.26" cy="240.7" r="2.25" fill="#a8a8a8"/><circle cx="491.26" cy="215.2" r="2.25" fill="#a8a8a8"/><circle cx="491.26" cy="258.1" r="2.25" fill="#a8a8a8"/><circle cx="491.26" cy="260.6" r="2.25" fill="#a8a8a8"/><circle cx="491.26" cy="217.7" r="2.25" fill="#a8a8a8"/><circle cx="491.26" cy="250.7" r="2.25" fill="#a8a8a8"/><circle cx="491.26" cy="235.67" r="2.25" fill="#a8a8a8"/><circle cx="491.26" cy="243.2" r="2.25" fill="#a8a8a8"/><circle cx="491.26" cy="238.2" r="2.25" fill="#a8a8a8"/><circle cx="491.26" cy="243.2" r="2.25" fill="#a8a8a8"/><circle cx="491.26" cy="220.2" r="2.25" fill="#a8a8a8"/><circle cx="491.26" cy="202.7" r="2.25" fill="#a8a8a8"/><circle cx="527.99" cy="260" r="2.25" fill="#a8a8a8"/><circle cx="527.99" cy="217" r="2.25" fill="#a8a8a8"/><circle cx="527.99" cy="242.5" r="2.25" fill="#a8a8a8"/><circle cx="527.99" cy="172" r="2.25" fill="#a8a8a8"/><circle cx="527.99" cy="224.5" r="2.25" fill="#a8a8a8"/><circle cx="527.99" cy="214.5" r="2.25" fill="#a8a8a8"/><circle cx="527.99" cy="194.5" r="2.25" fill="#a8a8a8"/><circle cx="527.99" cy="255" r="2.25" fill="#a8a8a8"/><circle cx="527.99" cy="204.5" r="2.25" fill="#a8a8a8"/><circle cx="527.99" cy="255" r="2.25" fill="#a8a8a8"/><circle cx="527.99" cy="184.5" r="2.25" fill="#a8a8a8"/><circle cx="527.99" cy="230" r="2.25" fill="#a8a8a8"/><circle cx="527.99" cy="237.5" r="2.25" fill="#a8a8a8"/><circle cx="527.99" cy="214.5" r="2.25" fill="#a8a8a8"/><circle cx="527.99" cy="226.42" r="2.25" fill="#a8a8a8"/><circle cx="527.99" cy="219.5" r="2.25" fill="#a8a8a8"/><circle cx="527.99" cy="222" r="2.25" fill="#a8a8a8"/><circle cx="527.99" cy="219.5" r="2.25" fill="#a8a8a8"/><circle cx="527.99" cy="262.5" r="2.25" fill="#a8a8a8"/><circle cx="527.99" cy="240" r="2.25" fill="#a8a8a8"/><circle cx="527.99" cy="212" r="2.25" fill="#a8a8a8"/><circle cx="527.99" cy="250" r="2.25" fill="#a8a8a8"/><circle cx="527.99" cy="257.5" r="2.25" fill="#a8a8a8"/><circle cx="527.99" cy="212" r="2.25" fill="#a8a8a8"/><circle cx="527.99" cy="247.5" r="2.25" fill="#a8a8a8"/><circle cx="527.99" cy="232.5" r="2.25" fill="#a8a8a8"/><circle cx="527.99" cy="242.5" r="2.25" fill="#a8a8a8"/><circle cx="527.99" cy="212" r="2.25" fill="#a8a8a8"/><circle cx="527.99" cy="227.5" r="2.25" fill="#a8a8a8"/><circle cx="527.99" cy="212" r="2.25" fill="#a8a8a8"/><circle cx="527.99" cy="199.5" r="2.25" fill="#a8a8a8"/><circle cx="564.72" cy="250" r="2.25" fill="#a8a8a8"/><circle cx="564.72" cy="207" r="2.25" fill="#a8a8a8"/><circle cx="564.72" cy="242.5" r="2.25" fill="#a8a8a8"/><circle cx="564.72" cy="159.5" r="2.25" fill="#a8a8a8"/><circle cx="564.72" cy="224.5" r="2.25" fill="#a8a8a8"/><circle cx="564.72" cy="202" r="2.25" fill="#a8a8a8"/><circle cx="564.72" cy="189.5" r="2.25" fill="#a8a8a8"/><circle cx="564.72" cy="255" r="2.25" fill="#a8a8a8"/><circle cx="564.72" cy="192" r="2.25" fill="#a8a8a8"/><circle cx="564.72" cy="252.5" r="2.25" fill="#a8a8a8"/><circle cx="564.72" cy="182" r="2.25" fill="#a8a8a8"/><circle cx="564.72" cy="230" r="2.25" fill="#a8a8a8"/><circle cx="564.72" cy="235" r="2.25" fill="#a8a8a8"/><circle cx="564.72" cy="202" r="2.25" fill="#a8a8a8"/><circle cx="564.72" cy="226.42" r="2.25" fill="#a8a8a8"/><circle cx="564.72" cy="214.5" r="2.25" fill="#a8a8a8"/><circle cx="564.72" cy="222" r="2.25" fill="#a8a8a8"/><circle cx="564.72" cy="199.5" r="2.25" fill="#a8a8a8"/><circle cx="564.72" cy="260" r="2.25" fill="#a8a8a8"/><circle cx="564.72" cy="237.5" r="2.25" fill="#a8a8a8"/><circle cx="564.72" cy="204.5" r="2.25" fill="#a8a8a8"/><circle cx="564.72" cy="250" r="2.25" fill="#a8a8a8"/><circle cx="564.72" cy="257.5" r="2.25" fill="#a8a8a8"/><circle cx="564.72" cy="212" r="2.25" fill="#a8a8a8"/><circle cx="564.72" cy="247.5" r="2.25" fill="#a8a8a8"/><circle cx="564.72" cy="232.5" r="2.25" fill="#a8a8a8"/><circle cx="564.72" cy="242.5" r="2.25" fill="#a8a8a8"/><circle cx="564.72" cy="202" r="2.25" fill="#a8a8a8"/><circle cx="564.72" cy="227.5" r="2.25" fill="#a8a8a8"/><circle cx="564.72" cy="172" r="2.25" fill="#a8a8a8"/><circle cx="564.72" cy="197" r="2.25" fill="#a8a8a8"/><circle cx="601.45" cy="248" r="2.25" fill="#a8a8a8"/><circle cx="601.45" cy="207" r="2.25" fill="#a8a8a8"/><circle cx="601.45" cy="240.5" r="2.25" fill="#a8a8a8"/><circle cx="601.45" cy="147.5" r="2.25" fill="#a8a8a8"/><circle cx="601.45" cy="223" r="2.25" fill="#a8a8a8"/><circle cx="601.45" cy="200" r="2.25" fill="#a8a8a8"/><circle cx="601.45" cy="185" r="2.25" fill="#a8a8a8"/><circle cx="601.45" cy="253" r="2.25" fill="#a8a8a8"/><circle cx="601.45" cy="187.5" r="2.25" fill="#a8a8a8"/><circle cx="601.45" cy="250.5" r="2.25" fill="#a8a8a8"/><circle cx="601.45" cy="177.5" r="2.25" fill="#a8a8a8"/><circle cx="601.45" cy="218" r="2.25" fill="#a8a8a8"/><circle cx="601.45" cy="233" r="2.25" fill="#a8a8a8"/><circle cx="601.45" cy="202" r="2.25" fill="#a8a8a8"/><circle cx="601.45" cy="212.5" r="2.25" fill="#a8a8a8"/><circle cx="601.45" cy="214.5" r="2.25" fill="#a8a8a8"/><circle cx="601.45" cy="220.5" r="2.25" fill="#a8a8a8"/><circle cx="601.45" cy="199.5" r="2.25" fill="#a8a8a8"/><circle cx="601.45" cy="260" r="2.25" fill="#a8a8a8"/><circle cx="601.45" cy="235.5" r="2.25" fill="#a8a8a8"/><circle cx="601.45" cy="204.5" r="2.25" fill="#a8a8a8"/><circle cx="601.45" cy="210" r="2.25" fill="#a8a8a8"/><circle cx="601.45" cy="257.5" r="2.25" fill="#a8a8a8"/><circle cx="601.45" cy="210" r="2.25" fill="#a8a8a8"/><circle cx="601.45" cy="245.5" r="2.25" fill="#a8a8a8"/><circle cx="601.45" cy="230.5" r="2.25" fill="#a8a8a8"/><circle cx="601.45" cy="242.5" r="2.25" fill="#a8a8a8"/><circle cx="601.45" cy="202" r="2.25" fill="#a8a8a8"/><circle cx="601.45" cy="227.5" r="2.25" fill="#a8a8a8"/><circle cx="601.45" cy="162.5" r="2.25" fill="#a8a8a8"/><circle cx="601.45" cy="190" r="2.25" fill="#a8a8a8"/><polyline fill="none" stroke="#1a2cff" stroke-width="2.6" points="50.5,274.7 87.23,269.09 123.96,263.49 160.69,257.91 197.42,252.35 234.15,246.81 270.88,241.3 307.61,235.82 344.34,230.38 381.07,224.98 417.8,219.61 454.53,214.27 491.26,208.95 527.99,203.65 564.72,198.37 601.45,193.1"/><polyline fill="none" stroke="#000" stroke-width="1" points="50.5,280.1 87.23,279.5 123.96,278.3 160.69,278 197.42,274.6 234.15,270.3 270.88,264.6 307.61,257.4 344.34,252 381.07,246.7 417.8,241.6 454.53,236.7 491.26,231.7 527.99,226 564.72,221 601.45,216.5"/><circle cx="50.5" cy="280.1" r="2.2" fill="#000"/><circle cx="87.23" cy="279.5" r="2.2" fill="#000"/><circle cx="123.96" cy="278.3" r="2.2" fill="#000"/><circle cx="160.69" cy="278" r="2.2" fill="#000"/><circle cx="197.42" cy="274.6" r="2.2" fill="#000"/><circle cx="234.15" cy="270.3" r="2.2" fill="#000"/><circle cx="270.88" cy="264.6" r="2.2" fill="#000"/><circle cx="307.61" cy="257.4" r="2.2" fill="#000"/><circle cx="344.34" cy="252" r="2.2" fill="#000"/><circle cx="381.07" cy="246.7" r="2.2" fill="#000"/><circle cx="417.8" cy="241.6" r="2.2" fill="#000"/><circle cx="454.53" cy="236.7" r="2.2" fill="#000"/><circle cx="491.26" cy="231.7" r="2.2" fill="#000"/><circle cx="527.99" cy="226" r="2.2" fill="#000"/><circle cx="564.72" cy="221" r="2.2" fill="#000"/><circle cx="601.45" cy="216.5" r="2.2" fill="#000"/></g><line x1="67.4" y1="128.9" x2="106.7" y2="128.9" stroke="#bbb" stroke-width="1.3"/><circle cx="67.4" cy="128.9" r="2.6" fill="#999"/><circle cx="106.7" cy="128.9" r="2.6" fill="#999"/><rect x="275.2" y="124" width="39.6" height="4.8" fill="#f2c77a"/><rect x="275.2" y="128.8" width="39.6" height="4.3" fill="#76ee00"/><line x1="275.4" y1="128.8" x2="314.4" y2="128.8" stroke="#000" stroke-width="1"/><circle cx="275.4" cy="128.8" r="2.3" fill="#000"/><circle cx="314.4" cy="128.8" r="2.3" fill="#000"/><line x1="482.4" y1="128.7" x2="523.6" y2="128.7" stroke="#1a2cff" stroke-width="2.6"/><rect x="61.8" y="142.9" width="283.8" height="28" fill="#fff" stroke="#6a6a6a" stroke-width="1.2"/><rect x="50.5" y="100.8" width="550.8" height="213.4" fill="none" stroke="#000" stroke-width="1.6"/><line x1="46.2" y1="280.6" x2="50.5" y2="280.6" stroke="#000" stroke-width="1.1"/><line x1="46.2" y1="232.17" x2="50.5" y2="232.17" stroke="#000" stroke-width="1.1"/><line x1="46.2" y1="183.74" x2="50.5" y2="183.74" stroke="#000" stroke-width="1.1"/><line x1="46.2" y1="135.31" x2="50.5" y2="135.31" stroke="#000" stroke-width="1.1"/><line x1="87.23" y1="314.2" x2="87.23" y2="318.0" stroke="#000" stroke-width="1.1"/><line x1="160.69" y1="314.2" x2="160.69" y2="318.0" stroke="#000" stroke-width="1.1"/><line x1="234.15" y1="314.2" x2="234.15" y2="318.0" stroke="#000" stroke-width="1.1"/><line x1="344.34" y1="314.2" x2="344.34" y2="318.0" stroke="#000" stroke-width="1.1"/><line x1="417.8" y1="314.2" x2="417.8" y2="318.0" stroke="#000" stroke-width="1.1"/><line x1="491.26" y1="314.2" x2="491.26" y2="318.0" stroke="#000" stroke-width="1.1"/><line x1="564.72" y1="314.2" x2="564.72" y2="318.0" stroke="#000" stroke-width="1.1"/><rect x="50.5" y="342.6" width="550.7" height="112.5" fill="none" stroke="#000" stroke-width="1.6"/><g clip-path="url(#cb)"><rect x="37.65" y="451.9" width="25.7" height="3.3" fill="#76ee00"/><rect x="74.38" y="450.1" width="25.7" height="5.1" fill="#76ee00"/><rect x="111.11" y="450.7" width="25.7" height="4.5" fill="#76ee00"/><rect x="147.84" y="453" width="25.7" height="2.2" fill="#76ee00"/><rect x="184.57" y="441" width="25.7" height="14.2" fill="#76ee00"/><rect x="221.3" y="435.8" width="25.7" height="19.4" fill="#76ee00"/><rect x="258.03" y="427.6" width="25.7" height="27.6" fill="#76ee00"/><rect x="294.76" y="421.1" width="25.7" height="34.1" fill="#76ee00"/><rect x="331.49" y="428.6" width="25.7" height="26.6" fill="#76ee00"/><rect x="368.22" y="430.2" width="25.7" height="25" fill="#76ee00"/><rect x="404.95" y="429.9" width="25.7" height="25.3" fill="#76ee00"/><rect x="441.68" y="433" width="25.7" height="22.2" fill="#76ee00"/><rect x="478.41" y="432.6" width="25.7" height="22.6" fill="#76ee00"/><rect x="515.14" y="427.2" width="25.7" height="28" fill="#76ee00"/><rect x="551.87" y="431.3" width="25.7" height="23.9" fill="#76ee00"/><rect x="588.6" y="434.4" width="25.7" height="20.8" fill="#76ee00"/></g><line x1="55.5" y1="432.15" x2="601" y2="432.15" stroke="#000" stroke-opacity="0.36" stroke-width="1" stroke-dasharray="1 4.07"/><line x1="55.5" y1="409.2" x2="601" y2="409.2" stroke="#000" stroke-opacity="0.36" stroke-width="1" stroke-dasharray="1 4.07"/><line x1="55.5" y1="386.25" x2="601" y2="386.25" stroke="#000" stroke-opacity="0.36" stroke-width="1" stroke-dasharray="1 4.07"/><line x1="55.5" y1="363.3" x2="601" y2="363.3" stroke="#000" stroke-opacity="0.36" stroke-width="1" stroke-dasharray="1 4.07"/><line x1="55.5" y1="455.4" x2="601" y2="455.4" stroke="#000" stroke-opacity="0.5" stroke-width="0.9" stroke-dasharray="1 4.07"/><line x1="46.2" y1="455.1" x2="50.5" y2="455.1" stroke="#000" stroke-width="1.1"/><line x1="46.2" y1="432.15" x2="50.5" y2="432.15" stroke="#000" stroke-width="1.1"/><line x1="46.2" y1="409.2" x2="50.5" y2="409.2" stroke="#000" stroke-width="1.1"/><line x1="46.2" y1="386.25" x2="50.5" y2="386.25" stroke="#000" stroke-width="1.1"/><line x1="46.2" y1="363.3" x2="50.5" y2="363.3" stroke="#000" stroke-width="1.1"/><line x1="87.23" y1="455.1" x2="87.23" y2="458.90000000000003" stroke="#000" stroke-width="1.1"/><line x1="160.69" y1="455.1" x2="160.69" y2="458.90000000000003" stroke="#000" stroke-width="1.1"/><line x1="234.15" y1="455.1" x2="234.15" y2="458.90000000000003" stroke="#000" stroke-width="1.1"/><line x1="344.34" y1="455.1" x2="344.34" y2="458.90000000000003" stroke="#000" stroke-width="1.1"/><line x1="417.8" y1="455.1" x2="417.8" y2="458.90000000000003" stroke="#000" stroke-width="1.1"/><line x1="491.26" y1="455.1" x2="491.26" y2="458.90000000000003" stroke="#000" stroke-width="1.1"/><line x1="564.72" y1="455.1" x2="564.72" y2="458.90000000000003" stroke="#000" stroke-width="1.1"/><rect x="260.9" y="61.0" width="8.9" height="1.25" fill="#454545"/><rect x="145.4" y="81.1" width="9.7" height="1.25" fill="#454545"/><text id="t1a" transform="translate(184.96,23.7) scale(1.12,1)" font-size="18" textLength="23.29" lengthAdjust="spacing" fill="#454545" word-spacing="0.22em">US</text><text id="t1b" transform="translate(222.46,23.7) scale(1.12,1)" font-size="18" textLength="81.32" lengthAdjust="spacing" fill="#454545" word-spacing="0.22em">Soybeans</text><text id="t1c" transform="translate(323.46,23.7) scale(1.12,1)" font-size="18" textLength="108.11" lengthAdjust="spacing" fill="#454545" word-spacing="0.22em">Precipitation</text><text id="t2a" transform="translate(100.55,46.7) scale(1.12,1)" font-size="15" textLength="61.07" lengthAdjust="spacing" fill="#454545" word-spacing="0.22em">Forecast</text><text id="t2b" transform="translate(177.55,46.7) scale(1.12,1)" font-size="15" textLength="90.09" lengthAdjust="spacing" fill="#454545" word-spacing="0.22em">Precipitation</text><text id="t2c" transform="translate(285.05,46.7) scale(1.12,1)" font-size="15" textLength="71.79" lengthAdjust="spacing" fill="#454545" word-spacing="0.22em">Compared</text><text id="t2d" transform="translate(374.55,46.7) scale(1.12,1)" font-size="15" textLength="15.09" lengthAdjust="spacing" fill="#454545" word-spacing="0.22em">to</text><text id="t2e" transform="translate(399.05,46.7) scale(1.12,1)" font-size="15" textLength="49.91" lengthAdjust="spacing" fill="#454545" word-spacing="0.22em">Normal</text><text id="t2f" transform="translate(464.05,46.7) scale(1.12,1)" font-size="15" textLength="57.5" lengthAdjust="spacing" fill="#454545" word-spacing="0.22em">(inches)</text><text id="t3a" transform="translate(174.05,66.5) scale(1.12,1)" font-size="15" textLength="76.25" lengthAdjust="spacing" fill="#454545" word-spacing="0.22em">Production</text><text id="t3b" transform="translate(271.55,66.5) scale(1.12,1)" font-size="15" textLength="61.96" lengthAdjust="spacing" fill="#454545" word-spacing="0.22em">Weighted</text><text id="t3c" transform="translate(350.05,66.5) scale(1.12,1)" font-size="15" textLength="30.27" lengthAdjust="spacing" fill="#454545" word-spacing="0.22em">Area</text><text id="t3d" transform="translate(393.55,66.5) scale(1.12,1)" font-size="15" textLength="54.38" lengthAdjust="spacing" fill="#454545" word-spacing="0.22em">Average</text><text id="t4a" transform="translate(123.55,86.6) scale(1.12,1)" font-size="15" textLength="17.77" lengthAdjust="spacingAndGlyphs" fill="#454545" word-spacing="0.22em">15</text><text id="t4b" transform="translate(157.05,86.6) scale(1.12,1)" font-size="15" textLength="25.36" lengthAdjust="spacing" fill="#454545" word-spacing="0.22em">Day</text><text id="t4c" transform="translate(196.55,86.6) scale(1.12,1)" font-size="15" textLength="63.75" lengthAdjust="spacing" fill="#454545" word-spacing="0.22em">Forecast</text><text id="t4d" transform="translate(278.55,86.6) scale(1.12,1)" font-size="15" textLength="70.89" lengthAdjust="spacing" fill="#454545" word-spacing="0.22em">Beginning</text><text id="t4e" transform="translate(368.55,86.6) scale(1.12,1)" font-size="15" textLength="18.66" lengthAdjust="spacing" fill="#454545" word-spacing="0.22em">24</text><text id="t4f" transform="translate(399.05,86.6) scale(1.12,1)" font-size="15" textLength="49.02" lengthAdjust="spacing" fill="#454545" word-spacing="0.22em">August</text><text id="t4g" transform="translate(464.55,86.6) scale(1.12,1)" font-size="15" textLength="37.41" lengthAdjust="spacing" fill="#454545" word-spacing="0.22em">2025</text><text id="l1" transform="translate(61.65,117.3) scale(1.12,1)" font-size="11.8" textLength="277.86" lengthAdjust="spacing" fill="#454545" word-spacing="0.22em">National Weather Service Global Forecast System</text><text id="l2" transform="translate(117.65,133.1) scale(1.12,1)" font-size="11.8" textLength="107.33" lengthAdjust="spacing" fill="#454545" word-spacing="0.22em">Ensemble Members</text><text id="l3" transform="translate(326.15,133) scale(1.12,1)" font-size="11.8" textLength="100.63" lengthAdjust="spacing" fill="#454545" word-spacing="0.22em">Ensemble Average</text><text id="l4" transform="translate(533.15,133.3) scale(1.12,1)" font-size="11.8" textLength="39.47" lengthAdjust="spacing" fill="#454545" word-spacing="0.22em">Normal</text><text id="p1" transform="translate(75.68,155.4) scale(1.12,1)" font-size="10.6" textLength="87.62" lengthAdjust="spacing" fill="#454545" word-spacing="0.22em">Percent of Crop:</text><text id="p2" transform="translate(66.68,166.4) scale(1.12,1)" font-size="10.6" textLength="95.66" lengthAdjust="spacing" fill="#454545" word-spacing="0.22em">Receives at Least:</text><text id="p3" transform="translate(190.68,155.4) scale(1.12,1)" font-size="10.6" textLength="13.07" lengthAdjust="spacingAndGlyphs" fill="#454545" word-spacing="0.22em">90</text><text id="p4" transform="translate(246.68,155.4) scale(1.12,1)" font-size="10.6" textLength="13.96" lengthAdjust="spacingAndGlyphs" fill="#454545" word-spacing="0.22em">50</text><text id="p5" transform="translate(302.68,155.4) scale(1.12,1)" font-size="10.6" textLength="14.41" lengthAdjust="spacingAndGlyphs" fill="#454545" word-spacing="0.22em">10</text><text id="p6" transform="translate(185.68,166.4) scale(1.12,1)" font-size="10.6" textLength="34.5" lengthAdjust="spacing" fill="#454545" word-spacing="0.22em">0.9 in.</text><text id="p7" transform="translate(241.18,166.4) scale(1.12,1)" font-size="10.6" textLength="35.84" lengthAdjust="spacing" fill="#454545" word-spacing="0.22em">1.2 in.</text><text id="p8" transform="translate(297.68,166.4) scale(1.12,1)" font-size="10.6" textLength="34.94" lengthAdjust="spacing" fill="#454545" word-spacing="0.22em">1.6 in.</text><text id="b1" transform="translate(61.15,357.6) scale(1.12,1)" font-size="11.8" textLength="207.77" lengthAdjust="spacing" fill="#454545" word-spacing="0.22em">Ensemble Average Daily Precipitation</text><text id="b2" transform="translate(481.55,357.2) scale(1.12,1)" font-size="11.8" textLength="97.15" lengthAdjust="spacing" fill="#454545" word-spacing="0.22em">World Ag Weather</text><text id="b3" transform="translate(465.29,358.1) scale(1.12,1)" font-size="13.7" textLength="7.07" lengthAdjust="spacing" fill="#454545" word-spacing="0.22em">©</text><text id="xa1" transform="translate(70.97,328.6) scale(1.0,1)" font-size="12.2" textLength="32.23" lengthAdjust="spacingAndGlyphs" fill="#111">25AUG</text><text id="xa3" transform="translate(145.15,328.6) scale(1.0,1)" font-size="12.2" textLength="31.23" lengthAdjust="spacingAndGlyphs" fill="#111">27AUG</text><text id="xa5" transform="translate(218.33,328.6) scale(1.0,1)" font-size="12.2" textLength="32.23" lengthAdjust="spacingAndGlyphs" fill="#111">29AUG</text><text id="xa8" transform="translate(331.85,328.6) scale(1.0,1)" font-size="12.2" textLength="24.73" lengthAdjust="spacingAndGlyphs" fill="#111">1SEP</text><text id="xa10" transform="translate(406.03,328.6) scale(1.0,1)" font-size="12.2" textLength="23.73" lengthAdjust="spacingAndGlyphs" fill="#111">3SEP</text><text id="xa12" transform="translate(479.21,328.6) scale(1.0,1)" font-size="12.2" textLength="23.73" lengthAdjust="spacingAndGlyphs" fill="#111">5SEP</text><text id="xa14" transform="translate(552.39,328.6) scale(1.0,1)" font-size="12.2" textLength="23.73" lengthAdjust="spacingAndGlyphs" fill="#111">7SEP</text><text id="ya" transform="translate(75.22,340) scale(1.0,1)" font-size="12.2" textLength="23.73" lengthAdjust="spacingAndGlyphs" fill="#111">2025</text><text id="xb1" transform="translate(70.97,469.4) scale(1.0,1)" font-size="12.2" textLength="32.23" lengthAdjust="spacingAndGlyphs" fill="#111">25AUG</text><text id="xb3" transform="translate(145.15,469.4) scale(1.0,1)" font-size="12.2" textLength="31.23" lengthAdjust="spacingAndGlyphs" fill="#111">27AUG</text><text id="xb5" transform="translate(218.33,469.4) scale(1.0,1)" font-size="12.2" textLength="32.23" lengthAdjust="spacingAndGlyphs" fill="#111">29AUG</text><text id="xb8" transform="translate(331.85,469.4) scale(1.0,1)" font-size="12.2" textLength="24.73" lengthAdjust="spacingAndGlyphs" fill="#111">1SEP</text><text id="xb10" transform="translate(406.03,469.4) scale(1.0,1)" font-size="12.2" textLength="23.73" lengthAdjust="spacingAndGlyphs" fill="#111">3SEP</text><text id="xb12" transform="translate(479.21,469.4) scale(1.0,1)" font-size="12.2" textLength="23.73" lengthAdjust="spacingAndGlyphs" fill="#111">5SEP</text><text id="xb14" transform="translate(552.39,469.4) scale(1.0,1)" font-size="12.2" textLength="23.73" lengthAdjust="spacingAndGlyphs" fill="#111">7SEP</text><text id="yb" transform="translate(75.22,480.8) scale(1.0,1)" font-size="12.2" textLength="23.73" lengthAdjust="spacingAndGlyphs" fill="#111">2025</text><text x="42.6" y="285.6" font-size="14.2" text-anchor="end" fill="#111">0</text><text x="42.6" y="237.17" font-size="14.2" text-anchor="end" fill="#111">1</text><text x="42.6" y="188.74" font-size="14.2" text-anchor="end" fill="#111">2</text><text x="42.6" y="140.31" font-size="14.2" text-anchor="end" fill="#111">3</text><text transform="translate(15.6,201.7) rotate(-90)" font-size="13.8" text-anchor="middle" textLength="40.4" lengthAdjust="spacing" fill="#111">inches</text><text x="42.6" y="460" font-size="14" text-anchor="end" fill="#111">0</text><text x="42.6" y="437.05" font-size="14" text-anchor="end" fill="#111">0.1</text><text x="42.6" y="414.1" font-size="14" text-anchor="end" fill="#111">0.2</text><text x="42.6" y="391.15" font-size="14" text-anchor="end" fill="#111">0.3</text><text x="42.6" y="368.2" font-size="14" text-anchor="end" fill="#111">0.4</text><text transform="translate(15.9,399) rotate(-90)" font-size="13.8" text-anchor="middle" textLength="40.6" lengthAdjust="spacing" fill="#111">inches</text></svg></body></html>
